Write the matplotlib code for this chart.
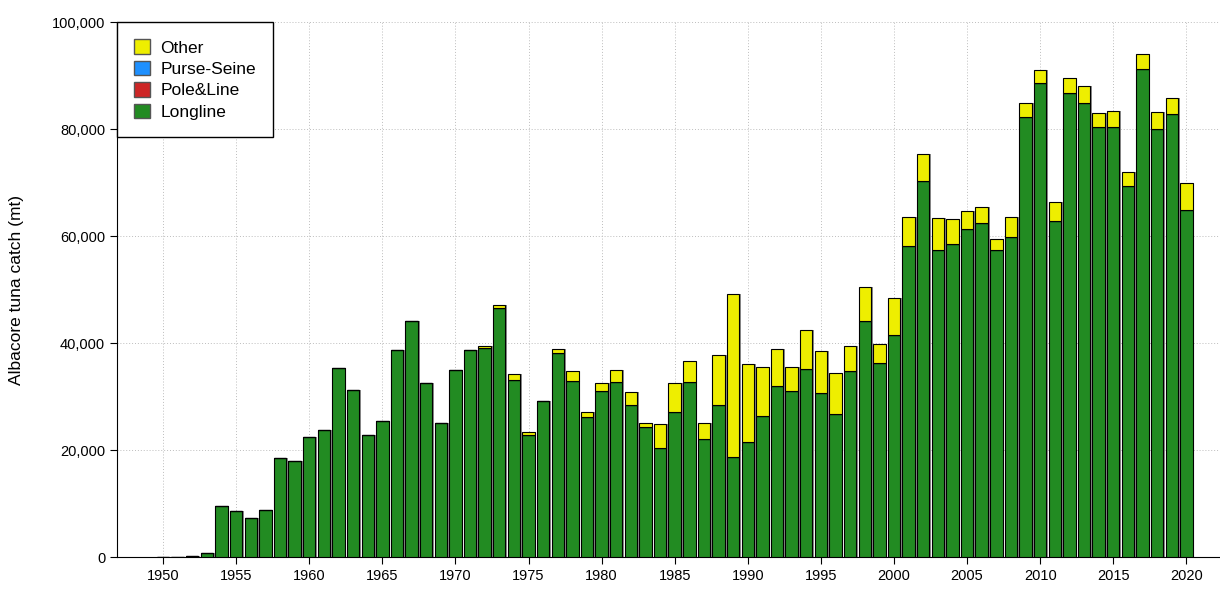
import matplotlib.pyplot as plt
import numpy as np
from matplotlib.patches import Patch
from matplotlib.ticker import FuncFormatter

plt.rcParams['font.family'] = ['Liberation Sans', 'DejaVu Sans']

# catch by gear, metric tonnes, 1950-2020
years = list(range(1950, 2021))

longline = [0, 0, 100, 750, 9500, 8600, 7300, 8800, 18500, 17900,
            22400, 23700, 35300, 31200, 22900, 25400, 38700, 44100, 32500, 25000,
            35000, 38700, 39000, 46500, 33100, 22800, 29200, 38100, 32900, 26200,
            31000, 32700, 28400, 24300, 20400, 27100, 32700, 22000, 28400, 18700,
            21500, 26400, 32000, 31100, 35100, 30700, 26700, 34800, 44100, 36300,
            41500, 58100, 70300, 57400, 58500, 61300, 62400, 57400, 59800, 82200,
            88600, 62800, 86700, 84900, 80400, 80400, 69300, 91200, 80000, 82800,
            64900]
pole_line = [0] * len(years)
purse_seine = [0] * len(years)
total = [0, 0, 100, 750, 9500, 8600, 7300, 8800, 18500, 17900,
         22400, 23700, 35300, 31200, 22900, 25400, 38700, 44100, 32500, 25000,
         35000, 38700, 39400, 47200, 34200, 23400, 29200, 38900, 34800, 27100,
         32500, 35000, 30800, 25000, 24900, 32500, 36600, 25000, 37800, 49200,
         36100, 35500, 38900, 35500, 42400, 38500, 34400, 39400, 50500, 39800,
         48400, 63600, 75300, 63400, 63200, 64700, 65400, 59400, 63600, 84900,
         91000, 66400, 89500, 88000, 83000, 83400, 72000, 94000, 83200, 85800,
         69900]
other = [t - l - p - s for t, l, p, s in zip(total, longline, pole_line, purse_seine)]

gears = ["Longline", "Pole&Line", "Purse-Seine", "Other"]
colours = {"Longline": "#228B22", "Pole&Line": "#CD2626",
           "Purse-Seine": "#1E90FF", "Other": "#EEEE00"}
series = {"Longline": longline, "Pole&Line": pole_line,
          "Purse-Seine": purse_seine, "Other": other}

fig = plt.figure(figsize=(12.2, 5.96), dpi=100)
ax = fig.add_axes([0.0959, 0.0654, 0.9041, 0.8976])

x = np.array(years)
width = 0.85

# grey drop shadow behind each stacked bar
ax.bar(x + 0.12, total, width=width, color="#8c8c8c", lw=0, zorder=2)

bottom = np.zeros(len(years))
for gear in gears:
    vals = np.array(series[gear])
    ax.bar(x, vals, width=width, bottom=bottom, color=colours[gear],
           edgecolor="black", linewidth=0.8, zorder=3)
    bottom += vals

ax.set_xlim(1946.85, 2022.3)
ax.set_ylim(0, 100000)
ax.set_xticks(range(1950, 2021, 5))
ax.set_yticks(range(0, 100001, 20000))
ax.yaxis.set_major_formatter(FuncFormatter(lambda v, pos: f"{int(v):,}"))
ax.tick_params(labelsize=10.5, colors="black", length=5)
ax.grid(True, color="#bdbdbd", linestyle=(0, (1, 2)), linewidth=0.7, zorder=0)
ax.set_axisbelow(True)
ax.set_ylabel("Albacore tuna catch (mt)", fontsize=12.5, labelpad=20)

for side in ["top", "right"]:
    ax.spines[side].set_visible(False)

handles = [Patch(facecolor=colours[g], edgecolor="#555555", label=g)
           for g in ["Other", "Purse-Seine", "Pole&Line", "Longline"]]
leg = ax.legend(handles=handles, loc="upper left", bbox_to_anchor=(0, 1),
                borderaxespad=0, fontsize=12.5, fancybox=False, framealpha=1,
                handlelength=0.9, handleheight=0.9, handletextpad=0.6,
                labelspacing=0.3, borderpad=1.0)
leg.get_frame().set_edgecolor("black")
leg.get_frame().set_linewidth(1.0)

plt.savefig("out.png", dpi=100)
